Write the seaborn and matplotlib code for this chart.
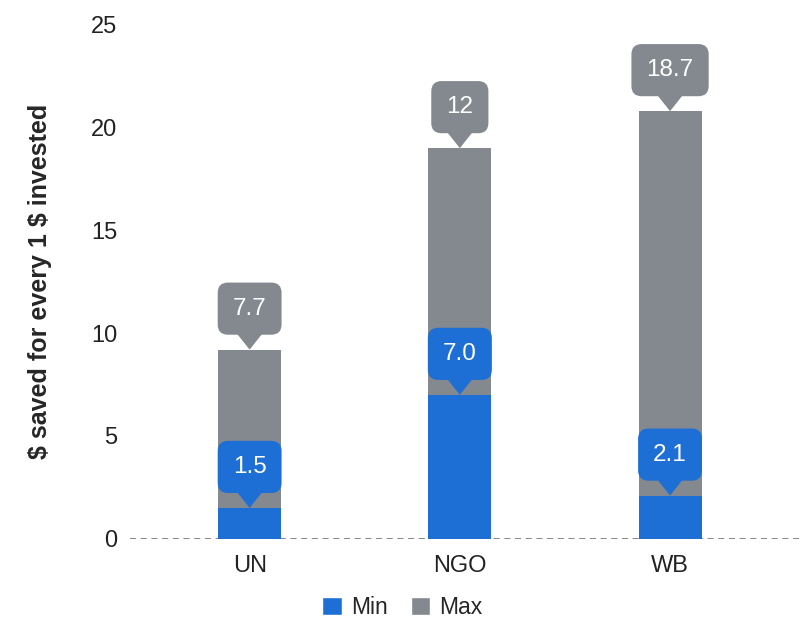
import pandas as pd
import numpy as np
import matplotlib.pyplot as plt
import matplotlib.transforms as transforms
from matplotlib.patches import Polygon, Patch
import seaborn as sns

categories = ['UN', 'NGO', 'WB']
min_vals = [1.5, 7.0, 2.1]
max_vals = [7.7, 12, 18.7]
min_labels = ['1.5', '7.0', '2.1']
max_labels = ['7.7', '12', '18.7']

blue = '#1E6FD5'
gray = '#84898F'

sns.set_style('white')
plt.rcParams['font.family'] = ['Liberation Sans', 'DejaVu Sans']

df = pd.DataFrame({'cat': categories, 'min': min_vals, 'max': max_vals})
df['total'] = df['min'] + df['max']

fig = plt.figure(figsize=(8.05, 6.2), dpi=100)
ax = fig.add_axes([0.161, 0.131, 0.833, 0.829])

# stacked: gray total behind, blue min in front
sns.barplot(data=df, x='cat', y='total', color=gray, width=0.3, ax=ax,
            saturation=1, linewidth=0)
sns.barplot(data=df, x='cat', y='min', color=blue, width=0.3, ax=ax,
            saturation=1, linewidth=0)

ax.set_xlim(-0.571, 2.619)
ax.set_ylim(0, 25)
ax.set_yticks([0, 5, 10, 15, 20, 25])
ax.tick_params(axis='both', length=0, labelsize=17, labelcolor='#222222')
ax.tick_params(axis='y', pad=9)
ax.tick_params(axis='x', pad=12)
for s in ax.spines.values():
    s.set_visible(False)
ax.axhline(0, color='#666666', linestyle=(0, (4, 3)), linewidth=1.1, zorder=0)
ax.set_xlabel('')
ax.set_ylabel(r'\$ saved for every 1 \$ invested', fontsize=18, fontweight='bold',
              labelpad=28)


def callout(x, y, text, color):
    # triangle pointer, sized in inches around the data point
    trans = fig.dpi_scale_trans + transforms.ScaledTranslation(x, y, ax.transData)
    tri = Polygon([(-0.135, 0.17), (0.135, 0.17), (0, 0)], closed=True,
                  transform=trans, facecolor=color, edgecolor='none', zorder=5)
    ax.add_patch(tri)
    ax.annotate(text, xy=(x, y), xytext=(0, 41), textcoords='offset pixels',
                ha='center', va='center', fontsize=17.5, color='white', zorder=6,
                bbox=dict(boxstyle='round,pad=0.62,rounding_size=0.42',
                          facecolor=color, edgecolor='none'))


for i in range(len(categories)):
    callout(i, df['total'][i], max_labels[i], gray)
    callout(i, df['min'][i], min_labels[i], blue)

handles = [Patch(facecolor=blue, label='Min'), Patch(facecolor=gray, label='Max')]
fig.legend(handles=handles, loc='center', bbox_to_anchor=(0.5, 0.02), ncol=2,
           frameon=False, fontsize=16.5, handlelength=0.85, handleheight=0.85,
           handletextpad=0.4, columnspacing=1.0)

fig.savefig('out.png', dpi=100)
